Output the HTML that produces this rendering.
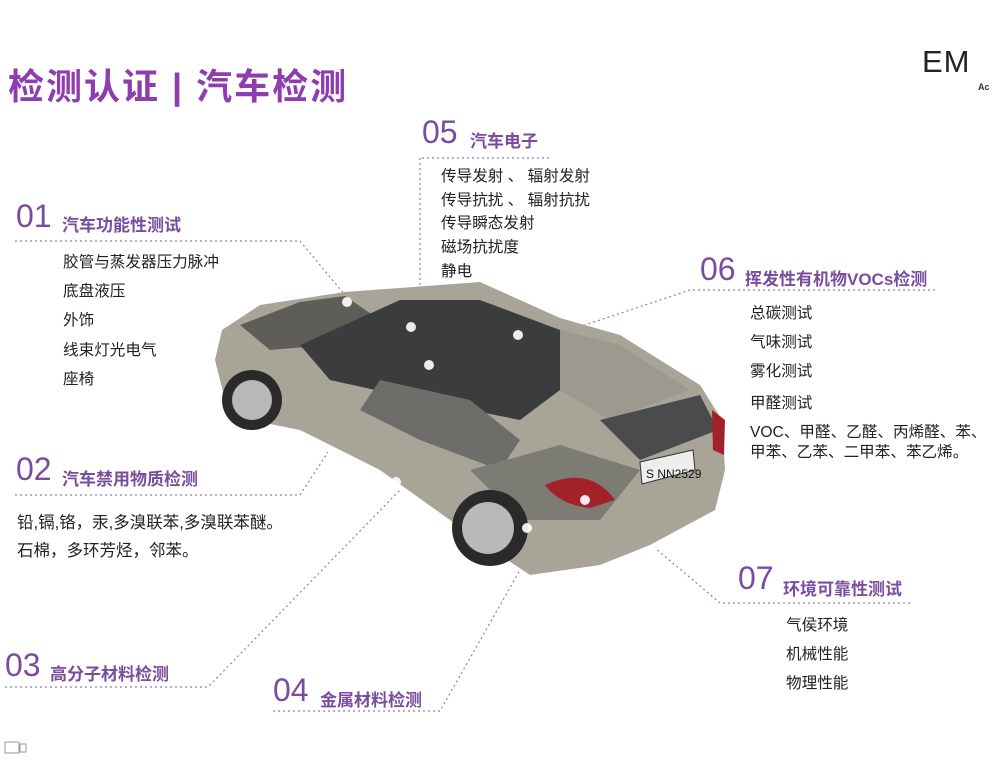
<!DOCTYPE html>
<html><head><meta charset="utf-8"><style>
body{margin:0;width:992px;height:768px;background:#fff;position:relative;overflow:hidden;font-family:"Liberation Sans","Noto Sans CJK SC",sans-serif;}
.a{position:absolute;white-space:nowrap;}
.t{font-weight:bold;color:#8e3cb0;font-size:36px;left:8px;top:58px;letter-spacing:2px}
.n{font-size:32px;color:#7a4c9e;line-height:1}
.h{font-size:17px;font-weight:bold;color:#7a4c9e}
.i{font-size:15.6px;color:#222}
</style></head><body>
<div class="a t">检测认证 | 汽车检测</div>
<div class="a" style="left:922px;top:44px;font-size:31px;color:#222;letter-spacing:1px;font-family:'Liberation Sans',sans-serif">EM</div>
<div class="a" style="left:978px;top:82px;font-size:9px;color:#333;font-weight:bold">Ac</div>

<svg class="a" style="left:0;top:0" width="992" height="768">
<g stroke="#8a80b0" stroke-width="1.2" stroke-dasharray="2,3" fill="none">
<polyline points="15,241 300,241 345,295"/>
<polyline points="15,495 300,495 328,452"/>
<polyline points="5,687 208,687 400,490"/>
<polyline points="273,711 440,711 520,570"/>
<polyline points="422,158 550,158"/><polyline points="420,158 420,290"/>
<polyline points="935,290 690,290 555,335"/>
<polyline points="910,603 720,603 655,548"/>
</g>
<polygon points="222,330 260,305 345,292 480,282 560,318 620,335 700,385 722,420 725,470 715,510 650,545 600,565 530,575 500,555 450,520 380,470 300,430 250,420 225,400 215,360" fill="#a8a497"/>
<polygon points="240,325 300,302 345,296 380,320 330,345 270,350" fill="#5e5d58"/>
<polygon points="300,345 400,300 480,300 560,330 600,360 520,420 420,400 330,380" fill="#3b3c3e"/>
<polygon points="560,330 620,345 690,390 610,420 560,390" fill="#9c998e"/>
<polygon points="380,380 470,400 520,440 500,470 420,440 360,410" fill="#6d6d6a"/>
<polygon points="600,420 700,395 718,430 640,460" fill="#4a4b4d"/>
<polygon points="470,470 560,445 640,470 600,520 520,520" fill="#7c7b74"/>
<path d="M545,485 Q590,465 615,500 L590,508 Q560,505 545,485Z" fill="#a3222a"/>
<polygon points="712,410 725,420 724,455 713,450" fill="#a3222a"/>
<polygon points="640,462 693,450 695,470 642,484" fill="#eee" stroke="#333"/>
<text x="646" y="478" font-size="12" font-family="Liberation Sans" fill="#111">S NN2529</text>
<circle cx="252" cy="400" r="30" fill="#2a2a2a"/><circle cx="252" cy="400" r="20" fill="#b8b8b8"/>
<circle cx="490" cy="528" r="38" fill="#2a2a2a"/><circle cx="488" cy="528" r="26" fill="#b8b8b8"/>
<g fill="#fff" opacity=".9"><circle cx="347" cy="302" r="5"/><circle cx="411" cy="327" r="5"/><circle cx="518" cy="335" r="5"/><circle cx="429" cy="365" r="5"/><circle cx="396" cy="482" r="5"/><circle cx="585" cy="500" r="5"/><circle cx="527" cy="528" r="5"/></g>
<rect x="5" y="742" width="14" height="11" fill="none" stroke="#999"/><rect x="20" y="744" width="6" height="8" fill="none" stroke="#999"/>
</svg>

<div class="a n" style="left:422px;top:116px">05</div><div class="a h" style="left:470px;top:127px">汽车电子</div>
<div class="a i" style="left:441px;top:165px;line-height:23.7px">传导发射 、 辐射发射<br>传导抗扰 、 辐射抗扰<br>传导瞬态发射<br>磁场抗扰度<br>静电</div>

<div class="a n" style="left:16px;top:200px">01</div><div class="a h" style="left:62px;top:211px">汽车功能性测试</div>
<div class="a i" style="left:63px;top:248px;line-height:29.2px">胶管与蒸发器压力脉冲<br>底盘液压<br>外饰<br>线束灯光电气<br>座椅</div>

<div class="a n" style="left:700px;top:253px">06</div><div class="a h" style="left:745px;top:265px">挥发性有机物VOCs检测</div>
<div class="a i" style="left:750px;top:299px;line-height:29px">总碳测试<br>气味测试<br>雾化测试</div>
<div class="a i" style="left:750px;top:391px">甲醛测试</div>
<div class="a i" style="left:750px;top:423px;line-height:20px">VOC、甲醛、乙醛、丙烯醛、苯、<br>甲苯、乙苯、二甲苯、苯乙烯。</div>

<div class="a n" style="left:16px;top:453px">02</div><div class="a h" style="left:62px;top:465px">汽车禁用物质检测</div>
<div class="a i" style="left:17px;top:509px;line-height:28px;font-size:16.5px">铅,镉,铬，汞,多溴联苯,多溴联苯醚。<br>石棉，多环芳烃，邻苯。</div>

<div class="a n" style="left:738px;top:562px">07</div><div class="a h" style="left:783px;top:575px">环境可靠性测试</div>
<div class="a i" style="left:786px;top:611px;line-height:29px">气侯环境<br>机械性能<br>物理性能</div>

<div class="a n" style="left:5px;top:649px">03</div><div class="a h" style="left:50px;top:660px">高分子材料检测</div>
<div class="a n" style="left:273px;top:674px">04</div><div class="a h" style="left:320px;top:686px">金属材料检测</div>
</body></html>
